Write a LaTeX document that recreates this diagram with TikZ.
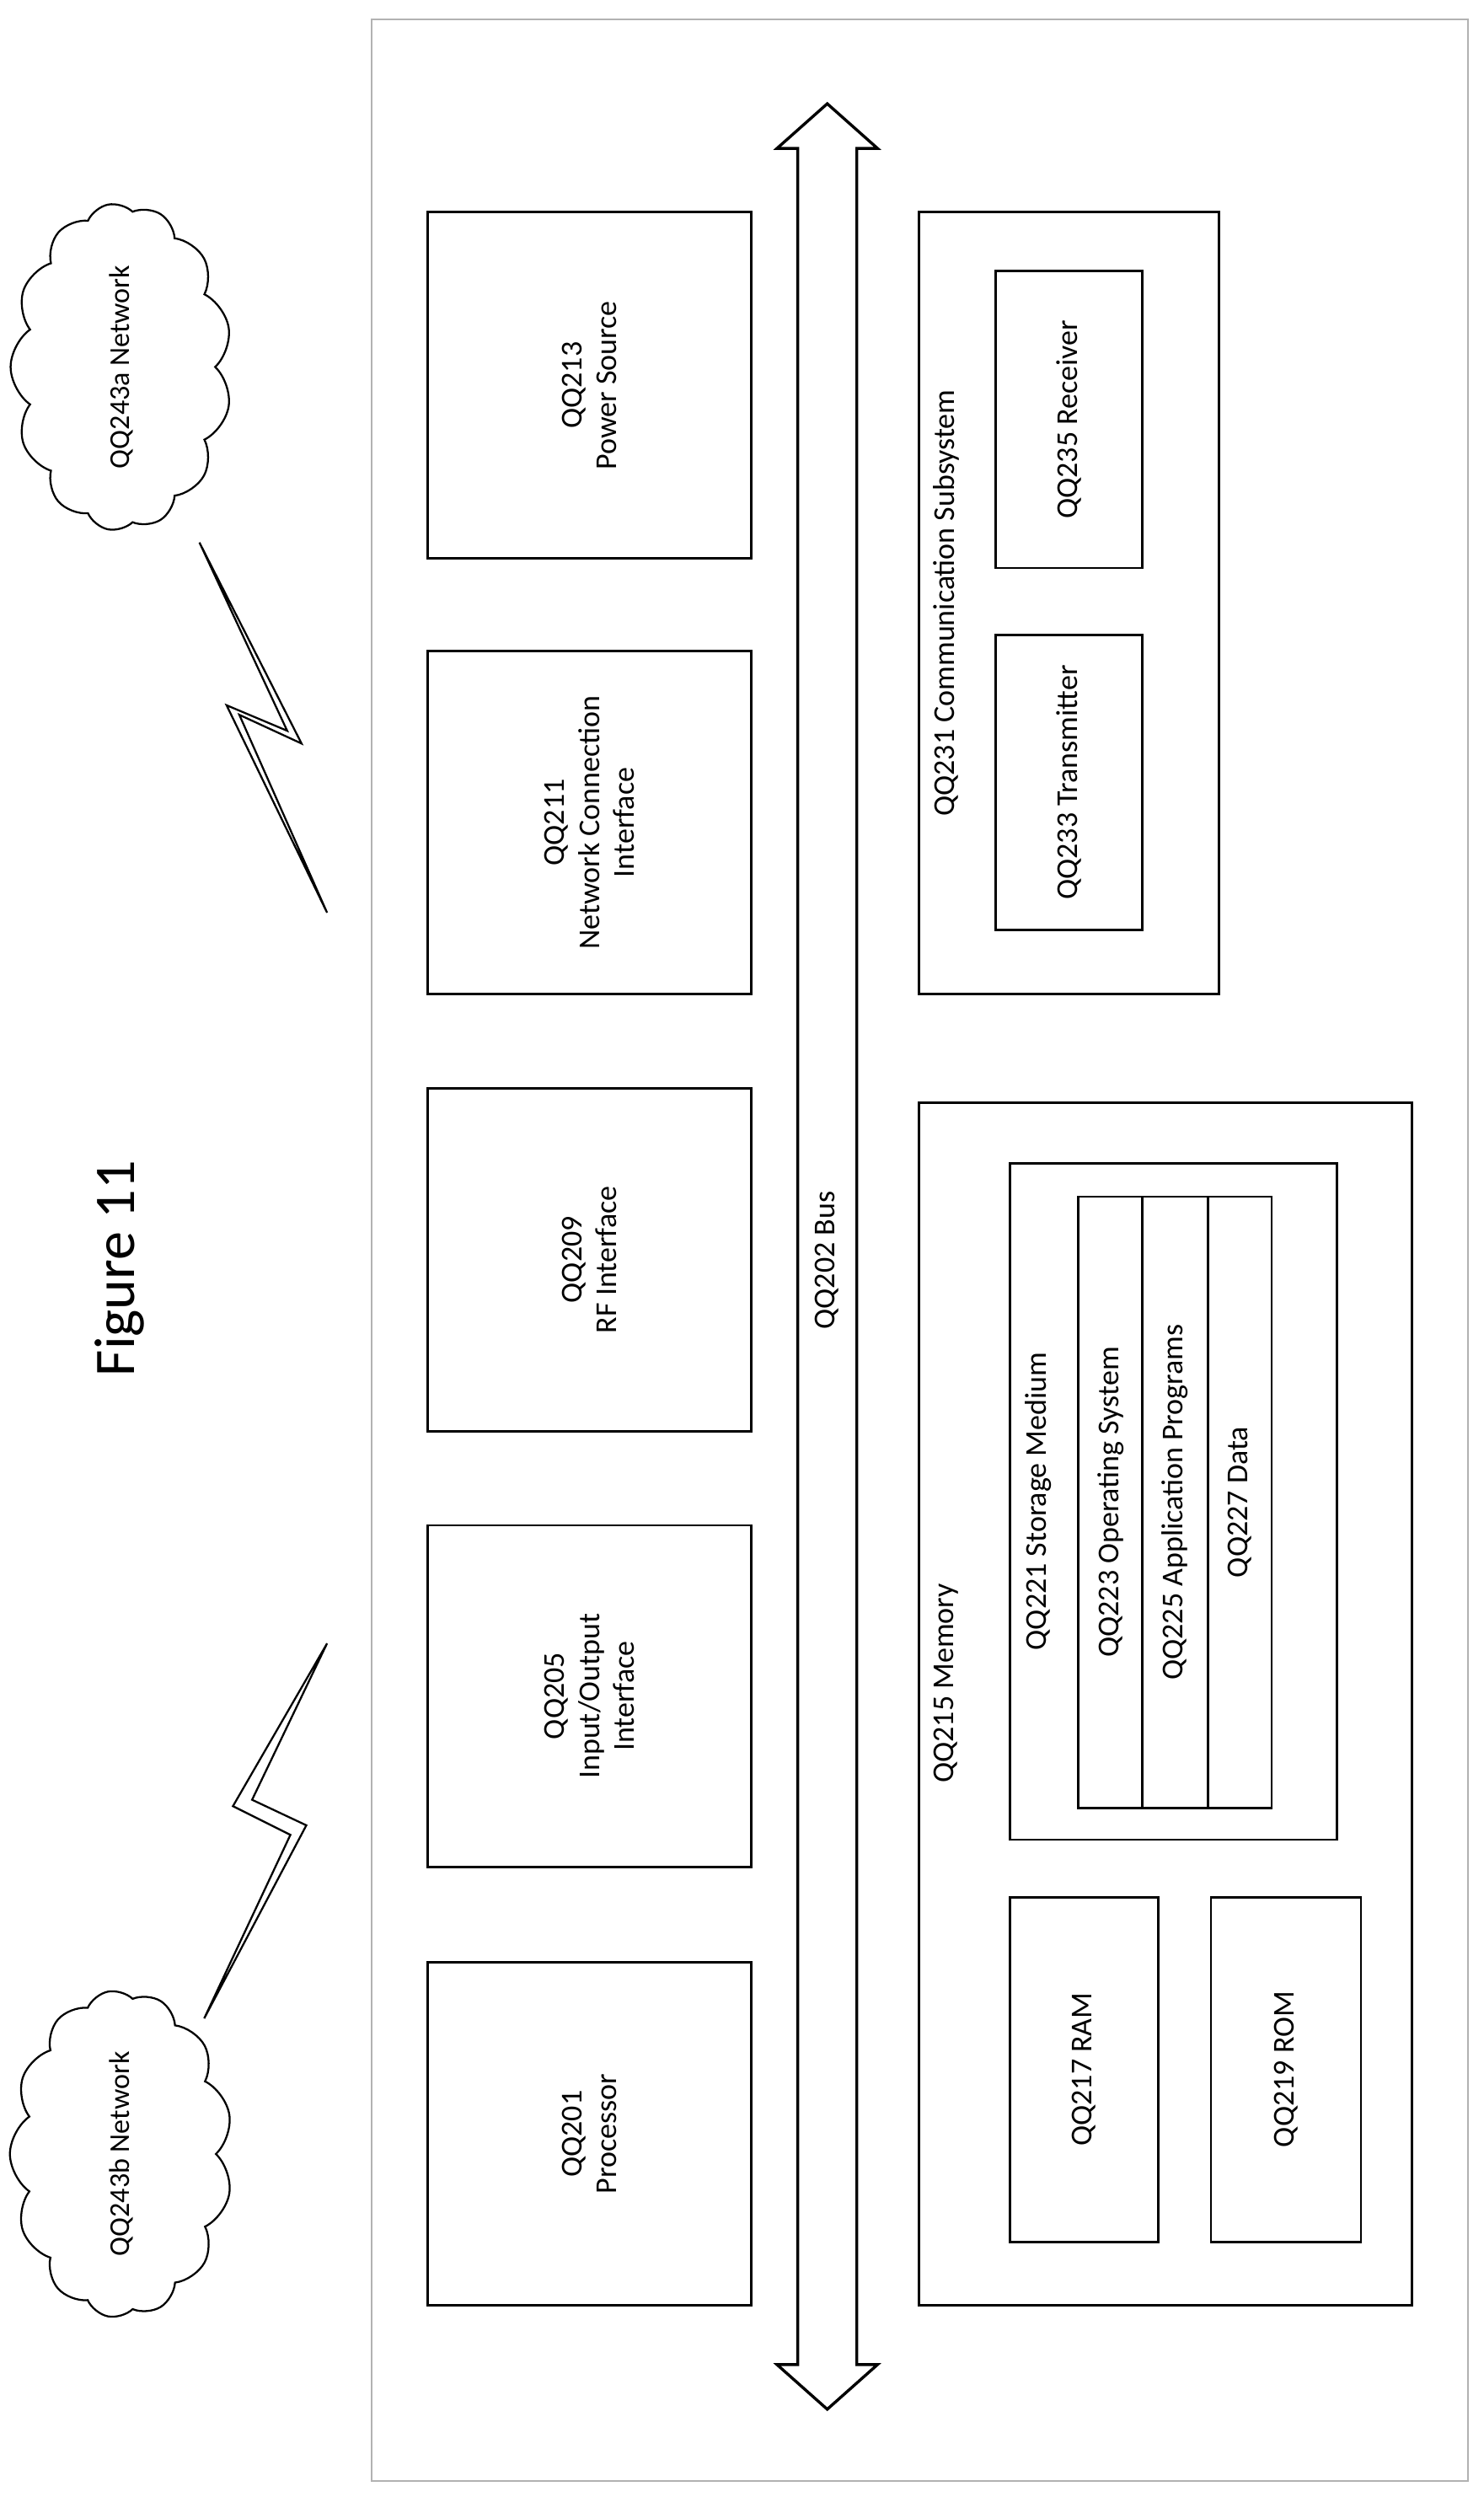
\documentclass[tikz,border=0pt]{standalone}
\usepackage{fontspec}
\setmainfont{Carlito}
\usetikzlibrary{shapes.symbols}
\tikzset{every picture/.style={line width=1.5pt}}
\tikzset{box/.style={draw, inner sep=0pt},
  lbl/.style={rotate=90, align=center, font=\fontsize{19}{22}\selectfont},
  net/.style={draw, cloud, cloud puffs=13, cloud puff arc=110, aspect=1.6, rotate=90,
    minimum width=205pt, minimum height=120pt, line width=1.2pt, font=\fontsize{18}{21}\selectfont}}
\begin{document}
\begin{tikzpicture}[x=1pt,y=1pt,yscale=-1]
        \useasboundingbox (0,0) rectangle (930,1565);

        %Outer frame
        \draw [color=black!30, line width=1.2pt] (233,12) rectangle (920,1555);
        %Bus
        \draw [line width=1.8pt] (518.5,65) -- (550,93) -- (537,93) -- (537,1482) -- (550,1482) -- (518.5,1510) -- (487,1482) -- (500,1482) -- (500,93) -- (487,93) -- cycle;
        \node (bus) [lbl] at (518.5,790) {QQ202 Bus};

        %Left column
        \node (pwr) [box, minimum width=203pt, minimum height=217pt] at (369.5,241.5) {};
        \node [lbl] at (pwr) {QQ213\\Power Source};
        \node (nci) [box, minimum width=203pt, minimum height=215pt] at (369.5,515.5) {};
        \node [lbl] at (nci) {QQ211\\Network Connection\\Interface};
        \node (rfi) [box, minimum width=203pt, minimum height=215pt] at (369.5,789.5) {};
        \node [lbl] at (rfi) {QQ209\\RF Interface};
        \node (iof) [box, minimum width=203pt, minimum height=214pt] at (369.5,1063) {};
        \node [lbl] at (iof) {QQ205\\Input/Output\\Interface};
        \node (cpu) [box, minimum width=203pt, minimum height=215pt] at (369.5,1337.5) {};
        \node [lbl] at (cpu) {QQ201\\Processor};

        %Communication subsystem
        \node (com) [box, minimum width=188pt, minimum height=490pt] at (670,378) {};
        \node [lbl] at (593,378) {QQ231 Communication Subsystem};
        \node (tx) [box, minimum width=92pt, minimum height=185pt] at (670,490.5) {};
        \node [lbl] at (tx) {QQ233 Transmitter};
        \node (rx) [box, minimum width=92pt, minimum height=186pt] at (670,263) {};
        \node [lbl] at (rx) {QQ235 Receiver};

        %Memory
        \node (mem) [box, minimum width=309pt, minimum height=754pt] at (730.5,1068) {};
        \node [lbl] at (593,1055) {QQ215 Memory};
        \node (ram) [box, minimum width=93pt, minimum height=216pt] at (679.5,1297) {};
        \node [lbl] at (ram) {QQ217 RAM};
        \node (rom) [box, minimum width=94pt, minimum height=216pt] at (806,1297) {};
        \node [lbl] at (rom) {QQ219 ROM};
        \node (sto) [box, minimum width=205pt, minimum height=424pt] at (735.5,941) {};
        \node [lbl] at (651,941) {QQ221 Storage Medium};
        \node (os) [box, minimum width=40pt, minimum height=383pt] at (696,941.5) {};
        \node [lbl] at (os) {QQ223 Operating System};
        \node (app) [box, minimum width=41pt, minimum height=383pt] at (736.5,941.5) {};
        \node [lbl] at (app) {QQ225 Application Programs};
        \node (dat) [box, minimum width=40pt, minimum height=383pt] at (777,941.5) {};
        \node [lbl] at (dat) {QQ227 Data};

        %Networks
        \node (neta) [net] at (76,230) {QQ243a Network};
        \node (netb) [net] at (76,1350) {QQ243b Network};
        \draw [line width=1.2pt] (125,340) -- (189,466) -- (150,448) -- (205,572) -- (142,442) -- (180,458) -- cycle;
        \draw [line width=1.2pt] (205,1030) -- (158,1128) -- (192,1144) -- (128,1265) -- (182,1150) -- (146,1132) -- cycle;

        % Title
        \node (title) [rotate=90, font=\fontsize{36}{42}\selectfont] at (75,795) {Figure 11};
\end{tikzpicture}
\end{document}
